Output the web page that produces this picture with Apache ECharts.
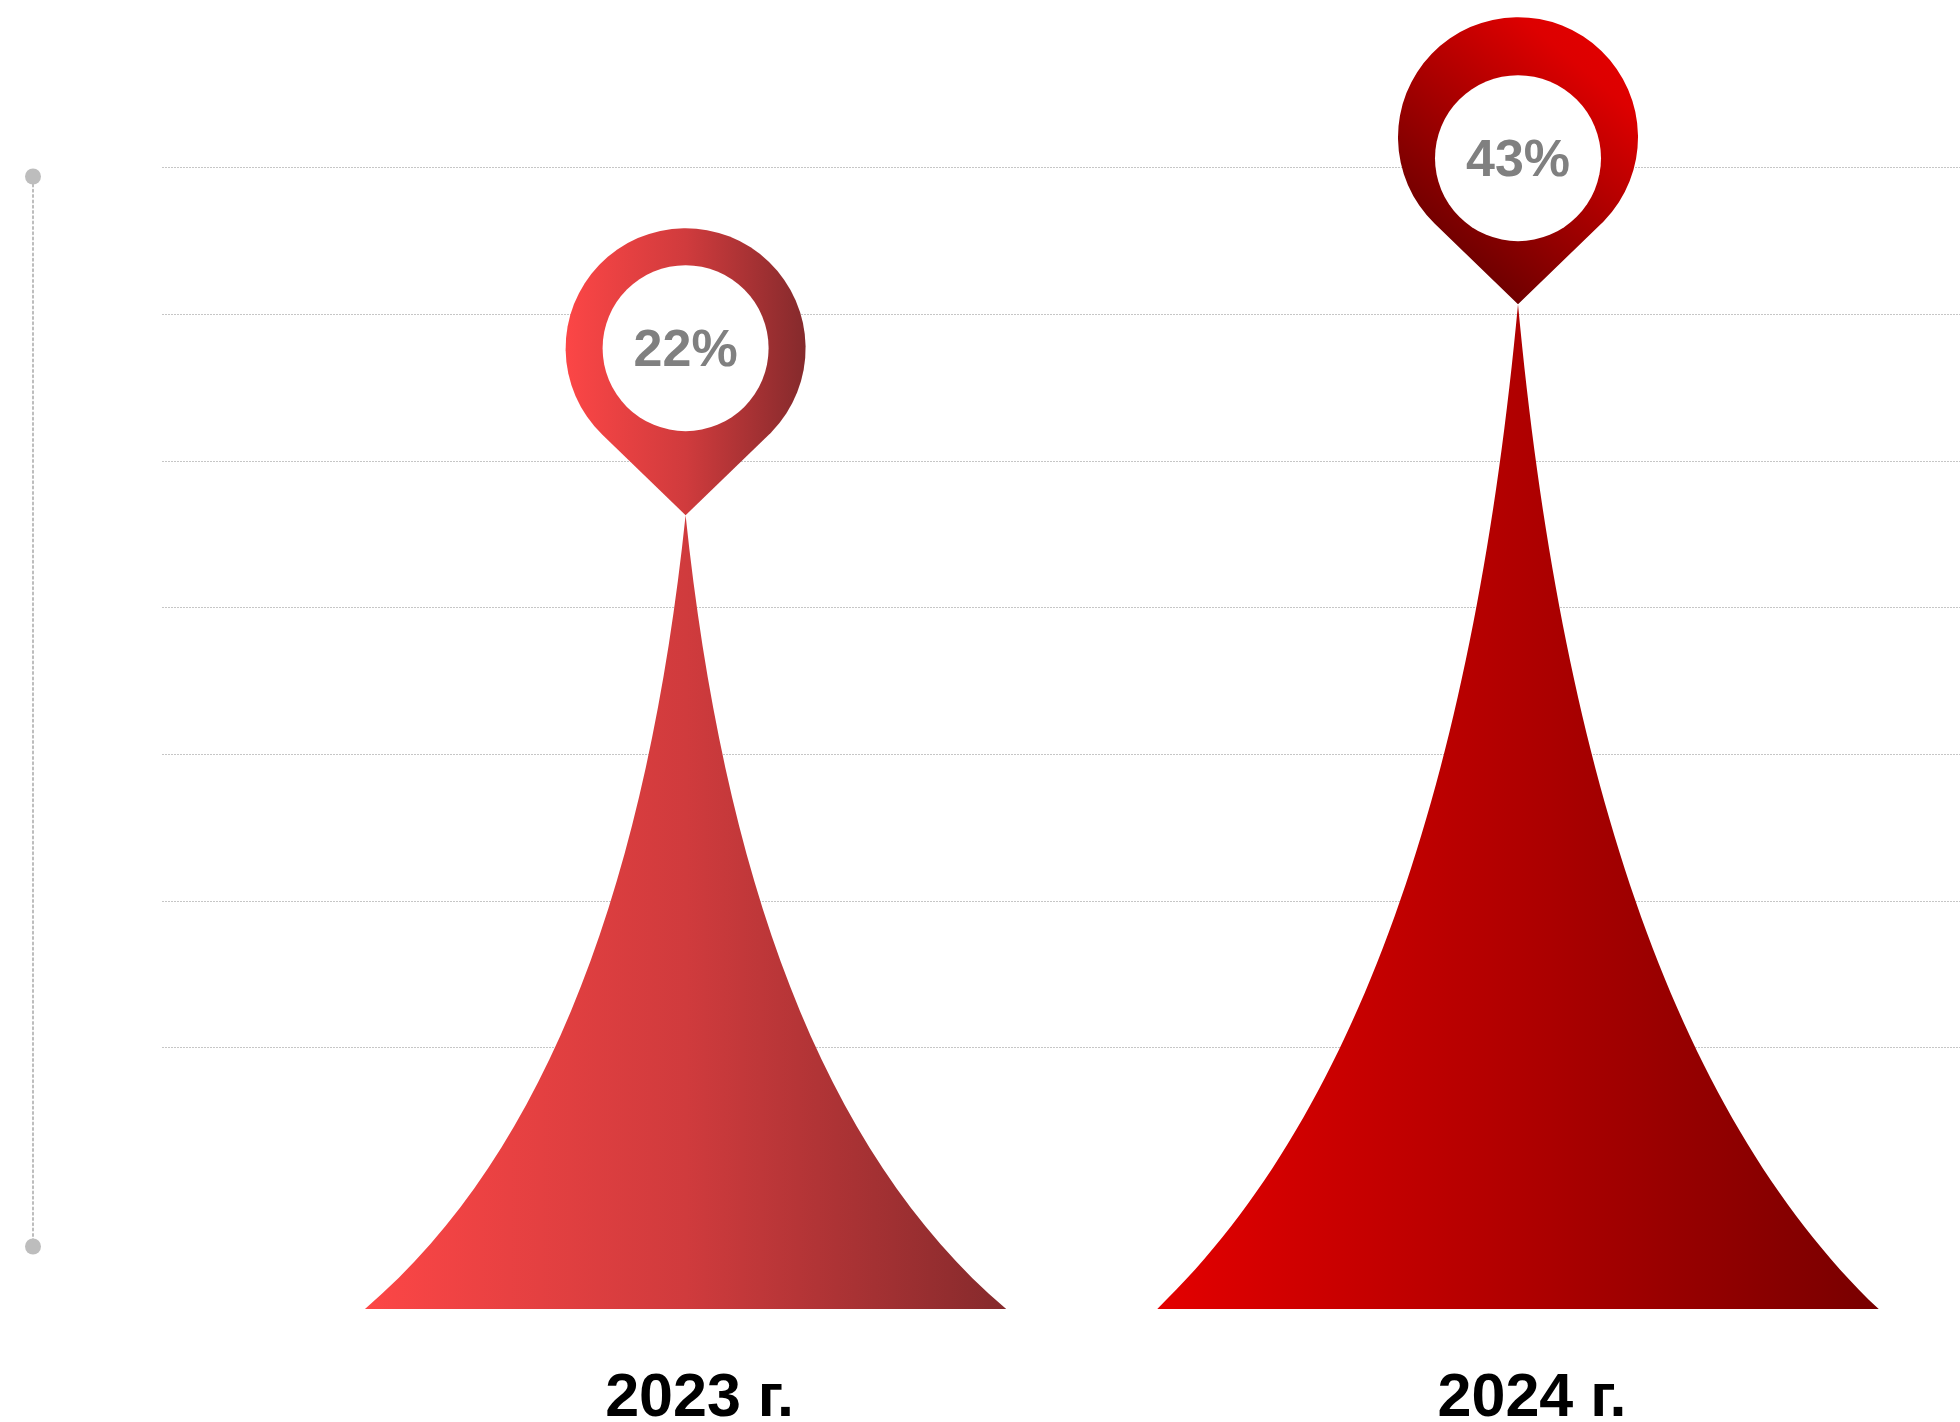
<!DOCTYPE html>
<html>
<head>
<meta charset="utf-8">
<title>2023 / 2024</title>
<script src="https://cdn.jsdelivr.net/npm/echarts@6/dist/echarts.min.js"></script>
<style>
    html, body { margin: 0; padding: 0; background: #fff; }
    #chart { width: 1960px; height: 1422px; }
</style>
</head>
<body>
<div id="chart"></div>
<script>
    // данные
    const years = ['2023 г.', '2024 г.'];
    const shares = [22, 43];
    const shareLabels = ['22%', '43%'];
    const guideTicks = [0, 1, 2, 3, 4, 5, 6];

    // оформление (цвета градиентов по годам)
    const spikeStops = [
        ['#fc4646', '#d03b3d', '#852a2c'],
        ['#e30000', '#b00000', '#780000']
    ];
    const pinStops = [
        [[0, '#fc4646'], [0.5, '#d03b3d'], [1, '#852a2c']],
        [[0, '#e60000'], [0.2, '#dd0000'], [1, '#4a0000']]
    ];
    const pinDirection = [[0, 0, 1, 0], [1, 0, 0, 1]];
    const innerShift = [0, 21];

    const PIN_R = 120;      // радиус маркера
    const PIN_TIP = 167;    // от центра до острия
    const HOLE_R = 83;      // белый круг

    function grad(dir, stops) {
        return new echarts.graphic.LinearGradient(dir[0], dir[1], dir[2], dir[3],
            stops.map(function (s) { return { offset: s[0], color: s[1] }; }));
    }

    function renderSpike(params, api) {
        const i = params.dataIndex;
        const tip = api.coord([api.value(0), api.value(1)]);
        const cs = params.coordSys;
        const baseY = cs.y + cs.height;
        const cx = tip[0], ty = tip[1];
        const h = baseY - ty;
        const hw = 11.38 * Math.sqrt(h);

        const spikePath = [
            'M', cx - hw, baseY,
            'L', cx + hw, baseY,
            'C', cx + 0.42 * hw, baseY - 0.2 * h, cx + 0.117 * hw, baseY - 0.55 * h, cx, ty,
            'C', cx - 0.117 * hw, baseY - 0.55 * h, cx - 0.42 * hw, baseY - 0.2 * h, cx - hw, baseY,
            'Z'
        ].join(' ');

        const cy = ty - PIN_TIP;
        const phi = Math.acos(PIN_R / PIN_TIP);
        const px = PIN_R * Math.sin(phi), py = PIN_R * Math.cos(phi);
        const pinPath = [
            'M', cx, ty,
            'L', cx - px, cy + py,
            'A', PIN_R, PIN_R, 0, 1, 1, cx + px, cy + py,
            'Z'
        ].join(' ');

        const s = spikeStops[i];
        const holeY = cy + innerShift[i];

        return {
            type: 'group',
            children: [
                {
                    type: 'path',
                    shape: { pathData: spikePath },
                    style: { fill: grad([0, 0, 1, 0], [[0, s[0]], [0.5, s[1]], [1, s[2]]]) }
                },
                {
                    type: 'path',
                    shape: { pathData: pinPath },
                    style: { fill: grad(pinDirection[i], pinStops[i]) }
                },
                {
                    type: 'circle',
                    shape: { cx: cx, cy: holeY, r: HOLE_R },
                    style: { fill: '#ffffff' }
                },
                {
                    type: 'text',
                    x: cx,
                    y: holeY + 3,
                    style: {
                        text: shareLabels[i],
                        fill: '#808080',
                        fontSize: 52,
                        fontWeight: 'bold',
                        fontFamily: '"Liberation Sans", Arial, sans-serif',
                        align: 'center',
                        verticalAlign: 'middle'
                    }
                }
            ]
        };
    }

    const option = {
        animation: false,
        backgroundColor: '#ffffff',
        grid: [
            // сетка-подложка
            { left: 162, right: 0, top: 167.5, bottom: 374.5, outerBoundsMode: 'none' },
            // сами «пики»
            { left: 269.4, right: 25.8, top: 163.5, bottom: 113, outerBoundsMode: 'none' },
            // пунктир слева
            { left: 33, width: 1, top: 176.5, bottom: 175.5, outerBoundsMode: 'none' }
        ],
        xAxis: [
            { gridIndex: 0, type: 'value', show: false },
            {
                gridIndex: 1,
                type: 'category',
                data: years,
                axisLine: { show: false },
                axisTick: { show: false },
                axisLabel: {
                    margin: 60,
                    color: '#000',
                    fontSize: 61,
                    lineHeight: 61,
                    fontWeight: 'bold',
                    fontFamily: '"Liberation Sans", Arial, sans-serif',
                    padding: [0, 0, 0, 28]
                }
            },
            { gridIndex: 2, type: 'value', show: false }
        ],
        yAxis: [
            {
                gridIndex: 0,
                type: 'value',
                min: guideTicks[0],
                max: guideTicks[guideTicks.length - 1],
                interval: 1,
                axisLine: { show: false },
                axisTick: { show: false },
                axisLabel: { show: false },
                splitLine: {
                    show: true,
                    lineStyle: { color: '#c6c6c6', width: 1, type: [2, 1] }
                }
            },
            { gridIndex: 1, type: 'value', min: -57, max: 57, show: false },
            {
                gridIndex: 2,
                type: 'value',
                axisLine: {
                    show: true,
                    symbol: ['circle', 'circle'],
                    symbolSize: [16, 16],
                    lineStyle: { color: '#bdbdbd', width: 2, type: [2, 3.3] }
                },
                axisTick: { show: false },
                axisLabel: { show: false },
                splitLine: { show: false }
            }
        ],
        series: [
            {
                type: 'custom',
                xAxisIndex: 1,
                yAxisIndex: 1,
                renderItem: renderSpike,
                encode: { x: 0, y: 1 },
                data: shares.map(function (v, i) { return [i, v]; })
            }
        ]
    };

    const chartObj = echarts.init(document.getElementById('chart'));
    chartObj.setOption(option);
    window.addEventListener('resize', function () { chartObj.resize(); });
</script>
</body>
</html>
